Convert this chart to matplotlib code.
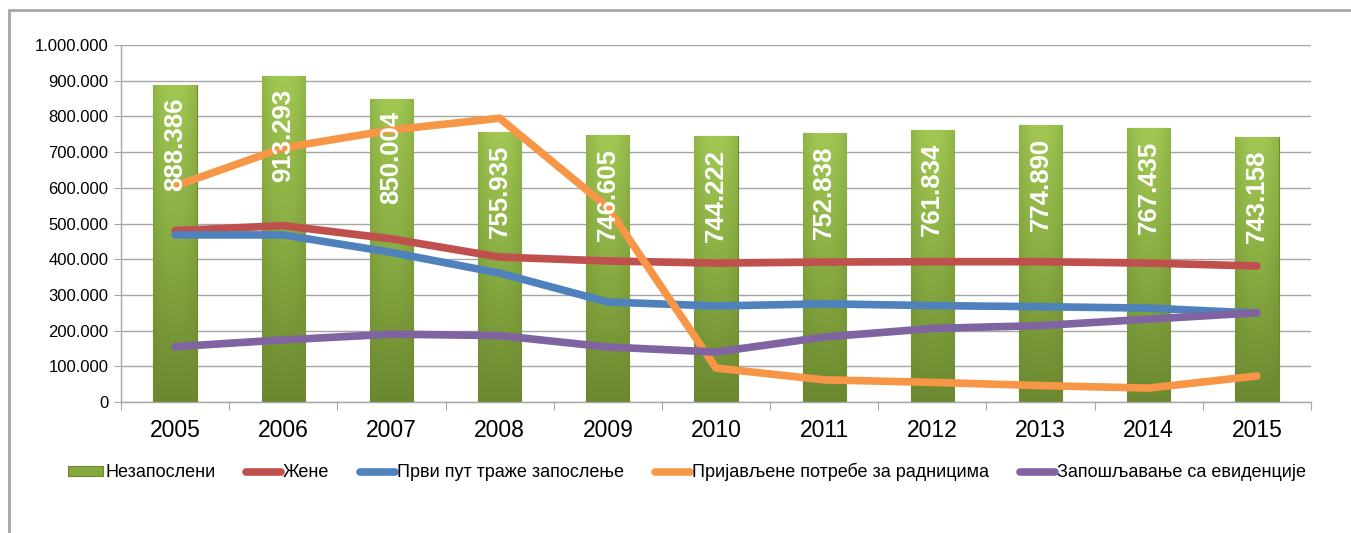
import numpy as np
import matplotlib
matplotlib.use("Agg")
import matplotlib.pyplot as plt
from matplotlib.patches import Rectangle
from matplotlib.ticker import FuncFormatter, FixedLocator
from matplotlib.colors import LinearSegmentedColormap

plt.rcParams['font.family'] = ['Liberation Sans', 'DejaVu Sans']

# ----------------------------
# Data
# ----------------------------
years = ['2005', '2006', '2007', '2008', '2009', '2010', '2011', '2012', '2013', '2014', '2015']
nezaposleni = [888386, 913293, 850004, 755935, 746605, 744222, 752838, 761834, 774890, 767435, 743158]
zene = [480000, 494000, 457000, 406000, 395000, 389000, 392000, 393000, 393000, 389000, 381000]
prvi_put = [468000, 468000, 419000, 361000, 280000, 269000, 275000, 270000, 267000, 263000, 249000]
potrebe = [605000, 712000, 762000, 795000, 545000, 95000, 62000, 55000, 46000, 39000, 73000]
evidencija = [155000, 174000, 190000, 186000, 154000, 140000, 182000, 206000, 214000, 232000, 250000]

labels = ['Незапослени', 'Жене', 'Први пут траже запослење',
          'Пријављене потребе за радницима', 'Запошљавање са евиденције']

W, H = 1351, 533
fig = plt.figure(figsize=(W / 100, H / 100), dpi=100)

# outer chart border (runs off the right and bottom edge)
fig.patches.append(Rectangle((9 / W, -0.2), 1.2, 1.2 - 10 / H, transform=fig.transFigure,
                             fill=False, edgecolor='#a6a6a6', linewidth=2))

ax = fig.add_axes([121 / W, 1 - 402 / H, (1311 - 121) / W, (402 - 45) / H])

x = np.arange(len(years))
bw = 0.4

# bars with a green gradient
bars = ax.bar(x, nezaposleni, width=bw, color='#86a83e', edgecolor='#6a8a2c',
              linewidth=0.8, zorder=2, label=labels[0])
cmap = LinearSegmentedColormap.from_list('g', ['#6b8830', '#89ad42', '#a2c854'])
vert = np.linspace(0, 1, 200)[:, None]
horiz = 1 - 0.35 * np.abs(np.linspace(-1, 1, 40))[None, :] ** 2
grad = vert * horiz
for b in bars:
    bx, by = b.get_x(), b.get_y()
    im = ax.imshow(grad, cmap=cmap, origin='lower', aspect='auto', vmin=0, vmax=1,
                   extent=(bx, bx + b.get_width(), by, by + b.get_height()), zorder=2.1)
    im.set_clip_path(b)

# value labels
for xi, v in zip(x, nezaposleni):
    s = f"{v:,}".replace(',', '.')
    ax.annotate(s, (xi, v), xytext=(0, -9), textcoords='offset points',
                rotation=90, ha='center', va='top', color='white',
                fontsize=18.5, fontweight='bold', zorder=6)

lw = 5.5
lines = []
for vals, col, lab in [(zene, '#c0504d', labels[1]), (prvi_put, '#4f81bd', labels[2]),
                       (potrebe, '#f79646', labels[3]), (evidencija, '#8064a2', labels[4])]:
    ln, = ax.plot(x, vals, color=col, lw=lw, solid_capstyle='round',
                  solid_joinstyle='round', zorder=4, label=lab)
    lines.append(ln)

ax.set_xlim(-0.5, len(years) - 0.5)
ax.set_ylim(0, 1000000)
ax.set_yticks(np.arange(0, 1000001, 100000))
ax.yaxis.set_major_formatter(FuncFormatter(lambda v, p: f"{int(v):,}".replace(',', '.')))
ax.grid(axis='y', color='#a6a6a6', linewidth=1, zorder=0)
ax.set_axisbelow(True)

# category boundary ticks, labels at centres
ax.xaxis.set_major_locator(FixedLocator(np.arange(-0.5, len(years), 1.0)))
ax.xaxis.set_major_formatter(FuncFormatter(lambda v, p: ''))
ax.xaxis.set_minor_locator(FixedLocator(x))
ax.set_xticklabels(years, minor=True)
ax.tick_params(axis='x', which='major', length=6, color='#a6a6a6', direction='out')
ax.tick_params(axis='x', which='minor', length=0, labelsize=16.5, pad=12)
ax.tick_params(axis='y', length=5, color='#a6a6a6', labelsize=12, pad=4)

for side in ['top', 'right']:
    ax.spines[side].set_visible(False)
for side in ['left', 'bottom']:
    ax.spines[side].set_color('#a6a6a6')
    ax.spines[side].set_linewidth(1)

leg = fig.legend([bars] + lines, labels, loc='center left',
                 bbox_to_anchor=(61 / W, 1 - 472 / H), ncol=5,
                 frameon=False, fontsize=13, handlelength=1.95, handleheight=0.45,
                 handletextpad=0.1, columnspacing=1.7, borderaxespad=0)
for h in leg.legend_handles:
    if hasattr(h, 'set_solid_capstyle'):
        h.set_solid_capstyle('round')

fig.savefig('out.png', dpi=100)
